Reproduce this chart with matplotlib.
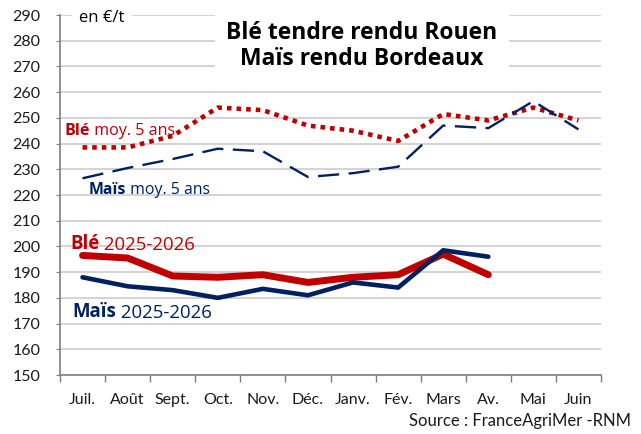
import matplotlib
matplotlib.use('Agg')
import matplotlib.pyplot as plt

# Data (en €/t)
months = ['Juil.', 'Août', 'Sept.', 'Oct.', 'Nov.', 'Déc.',
          'Janv.', 'Fév.', 'Mars', 'Av.', 'Mai', 'Juin']
ble_moy5 = [238.5, 238.5, 243, 254, 253, 247, 245, 241, 251.5, 249, 254, 249]
mais_moy5 = [226.5, 230.5, 234, 238, 237, 227, 228.5, 231, 247, 246, 256.5, 245.5]
ble_2526 = [196.5, 195.5, 188.5, 188, 189, 186, 188, 189, 197, 189]
mais_2526 = [188, 184.5, 183, 180, 183.5, 181, 186, 184, 198.5, 196]
yticks = list(range(150, 300, 10))

RED = '#c00000'
NAVY = '#002060'
GRID = '#d0d0d0'
AXC = '#7f7f7f'
TXT = ['Open Sans', 'DejaVu Sans']

plt.rcParams['font.family'] = ['Lato', 'DejaVu Sans']

W, H = 641, 434
fig = plt.figure(figsize=(W / 100, H / 100), dpi=100)
ax = fig.add_axes([60 / W, (H - 375) / H, 541 / W, 360 / H])

x = list(range(len(months)))
ax.plot(x, ble_moy5, color=RED, lw=3.3, linestyle=(0, (1, 1.1)),
        dash_capstyle='butt', zorder=3)
ax.plot(x, mais_moy5, color=NAVY, lw=1.7, linestyle=(0, (9, 4)),
        dash_capstyle='butt', zorder=3)
ax.plot(x[:len(ble_2526)], ble_2526, color=RED, lw=5,
        solid_capstyle='round', solid_joinstyle='round', zorder=4)
ax.plot(x[:len(mais_2526)], mais_2526, color=NAVY, lw=3.3,
        solid_capstyle='round', solid_joinstyle='round', zorder=5)

ax.set_xlim(-0.5, len(months) - 0.5)
ax.set_ylim(150, 290)
ax.set_yticks(yticks)
ax.set_xticks(x)
ax.set_xticklabels(months)
ax.set_xticks([i - 0.5 for i in range(len(months) + 1)], minor=True)
ax.tick_params(axis='x', which='major', length=0, pad=13, labelsize=11.5,
               labelcolor='#1a1a1a')
ax.tick_params(axis='x', which='minor', length=5, color=AXC, width=1)
ax.tick_params(axis='y', length=3, color=AXC, pad=11, labelsize=11.5,
               labelcolor='#1a1a1a')
ax.grid(axis='y', color=GRID, lw=1.3, zorder=0)
ax.set_axisbelow(True)
for s in ['top', 'right']:
    ax.spines[s].set_visible(False)
for s in ['left', 'bottom']:
    ax.spines[s].set_color(AXC)
    ax.spines[s].set_linewidth(1.2)

# Title and unit, with white boxes hiding the gridlines behind them
fig.text(362 / W, 1 - 46 / H, 'Blé tendre rendu Rouen\nMaïs rendu Bordeaux',
         ha='center', va='center', fontsize=16.5, fontweight='bold',
         family=TXT, linespacing=1.15, zorder=10,
         bbox=dict(facecolor='white', edgecolor='none', pad=8))
fig.text(102 / W, 1 - 18 / H, 'en €/t', ha='center', va='center',
         fontsize=12, family=TXT, zorder=10,
         bbox=dict(facecolor='white', edgecolor='none', pad=5))


def two_part(xp, yp, bold, rest, color, size):
    t1 = fig.text(xp / W, 1 - yp / H, bold, color=color, fontsize=size,
                  fontweight='bold', family=TXT, va='bottom', ha='left',
                  zorder=10)
    ax.annotate(rest, xy=(1, 0), xycoords=t1, va='bottom', ha='left',
                color=color, fontsize=size, family=TXT, zorder=10)


two_part(64, 139, 'Blé', ' moy. 5 ans', RED, 11.6)
two_part(89, 198, 'Maïs', ' moy. 5 ans', NAVY, 11.4)
two_part(70, 254, 'Blé', ' 2025-2026', RED, 13.4)
two_part(72, 322, 'Maïs', ' 2025-2026', NAVY, 13.4)

fig.text(631 / W, 1 - 421 / H, 'Source : FranceAgriMer -RNM', ha='right',
         va='center', fontsize=12, color='#1a1a1a')

fig.savefig('out.png', dpi=100)
